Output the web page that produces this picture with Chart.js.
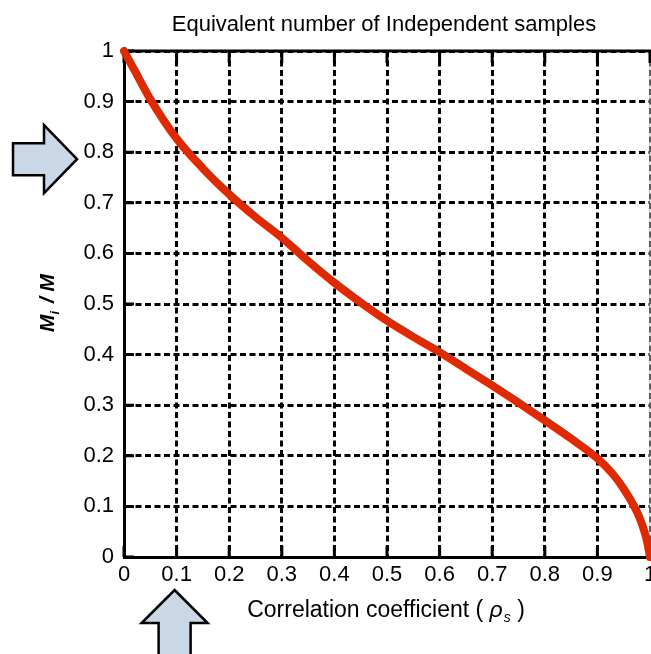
<!DOCTYPE html>
<html>
<head>
<meta charset="utf-8">
<script src="https://cdn.jsdelivr.net/npm/chart.js@4"></script>
<style>
  html, body { margin: 0; padding: 0; background: #fff; }
  canvas { display: block; }
</style>
</head>
<body>
<canvas id="corrChart" width="651" height="654"></canvas>
<script>
// correlation coefficient (x) and ratio Mi / M (y)
const rho = [0, 0.02, 0.05, 0.1, 0.15, 0.2, 0.25, 0.3, 0.35, 0.4, 0.45, 0.5, 0.55,
  0.6, 0.65, 0.7, 0.75, 0.8, 0.85, 0.9, 0.93, 0.95, 0.97, 0.98, 0.99, 0.995, 1.0];
const ratio = [1.0, 0.962, 0.905, 0.827, 0.768, 0.717, 0.672, 0.631, 0.585, 0.542, 0.503, 0.467, 0.435,
  0.405, 0.372, 0.339, 0.305, 0.27, 0.234, 0.195, 0.163, 0.135, 0.1, 0.078, 0.048, 0.028, 0.0];

const xTickLabels = ["0", "0.1", "0.2", "0.3", "0.4", "0.5", "0.6", "0.7", "0.8", "0.9", "1"];
const yTickLabels = ["0", "0.1", "0.2", "0.3", "0.4", "0.5", "0.6", "0.7", "0.8", "0.9", "1"];

// arrows point at these values
const arrowX = 0.1;
const arrowY = 0.8;

const FONT = "'Liberation Sans', Arial, sans-serif";

function drawArrow(ctx, pts) {
  ctx.beginPath();
  ctx.moveTo(pts[0][0], pts[0][1]);
  for (let i = 1; i < pts.length; i++) ctx.lineTo(pts[i][0], pts[i][1]);
  ctx.closePath();
  ctx.fillStyle = "#c9d7e6";
  ctx.fill();
  ctx.lineWidth = 2.5;
  ctx.strokeStyle = "#000";
  ctx.lineJoin = "miter";
  ctx.stroke();
}

const decorations = {
  id: "decorations",
  beforeDatasetsDraw(chart) {
    const { ctx, chartArea: a, scales: { x, y } } = chart;
    ctx.save();
    // solid top frame and faint right frame
    ctx.strokeStyle = "#000";
    ctx.lineWidth = 3;
    ctx.beginPath();
    ctx.moveTo(a.left, a.top);
    ctx.lineTo(a.right + 2, a.top);
    ctx.stroke();
    ctx.strokeStyle = "#bbb";
    ctx.lineWidth = 1;
    ctx.beginPath();
    ctx.moveTo(a.right, a.top);
    ctx.lineTo(a.right, a.bottom);
    ctx.stroke();
    // inward tick marks
    ctx.strokeStyle = "#000";
    ctx.lineWidth = 3;
    ctx.beginPath();
    x.ticks.forEach(t => {
      const px = x.getPixelForValue(t.value);
      ctx.moveTo(px, a.top);
      ctx.lineTo(px, a.top + 12);
      ctx.moveTo(px, a.bottom);
      ctx.lineTo(px, a.bottom - 11);
    });
    y.ticks.forEach(t => {
      const py = y.getPixelForValue(t.value);
      ctx.moveTo(a.left, py);
      ctx.lineTo(a.left + 10, py);
    });
    ctx.stroke();
    ctx.restore();
  },
  afterDraw(chart) {
    const { ctx, chartArea: a, scales: { x, y } } = chart;
    ctx.save();
    ctx.fillStyle = "#000";
    ctx.textBaseline = "alphabetic";

    // title
    ctx.font = "22px " + FONT;
    ctx.textAlign = "center";
    ctx.fillText("Equivalent number of Independent samples", 384, 31);

    // x axis title with subscript
    const cx = 386;
    const base = 617;
    const part1 = "Correlation coefficient ( ";
    const part3 = " )";
    ctx.font = "23px " + FONT;
    const w1 = ctx.measureText(part1).width;
    const w3 = ctx.measureText(part3).width;
    ctx.font = "italic 23px " + FONT;
    const wr = ctx.measureText("\u03c1").width;
    ctx.font = "italic 14px " + FONT;
    const ws = ctx.measureText("s").width;
    let sx = cx - (w1 + wr + ws + 1 + w3) / 2;
    ctx.textAlign = "left";
    ctx.font = "23px " + FONT;
    ctx.fillText(part1, sx, base);
    sx += w1;
    ctx.font = "italic 23px " + FONT;
    ctx.fillText("\u03c1", sx, base);
    sx += wr + 1;
    ctx.font = "italic 14px " + FONT;
    ctx.fillText("s", sx, base + 5);
    sx += ws;
    ctx.font = "23px " + FONT;
    ctx.fillText(part3, sx, base);

    // y axis title, rotated
    ctx.translate(54, 303);
    ctx.rotate(-Math.PI / 2);
    ctx.font = "bold italic 21px " + FONT;
    const wm = ctx.measureText("M").width;
    const wsl = ctx.measureText(" / ").width;
    ctx.font = "bold italic 13px " + FONT;
    const wi = ctx.measureText("i").width;
    const total = wm + wi + 2 + wsl + wm;
    let ly = -total / 2;
    ctx.font = "bold italic 21px " + FONT;
    ctx.fillText("M", ly, 0);
    ly += wm;
    ctx.font = "bold italic 13px " + FONT;
    ctx.fillText("i", ly, 5);
    ly += wi + 2;
    ctx.font = "bold italic 21px " + FONT;
    ctx.fillText(" / ", ly, 0);
    ly += wsl;
    ctx.fillText("M", ly, 0);
    ctx.setTransform(1, 0, 0, 1, 0, 0);

    // arrow pointing at y = 0.8
    const ay = y.getPixelForValue(arrowY) + 7;
    const tipX = 77;
    drawArrow(ctx, [
      [tipX, ay], [tipX - 33, ay - 34], [tipX - 33, ay - 16], [tipX - 64, ay - 16],
      [tipX - 64, ay + 16], [tipX - 33, ay + 16], [tipX - 33, ay + 34]
    ]);

    // arrow pointing at x = 0.1
    const ax = x.getPixelForValue(arrowX) - 2;
    const tipY = 590;
    drawArrow(ctx, [
      [ax, tipY], [ax + 33, tipY + 33], [ax + 16, tipY + 33], [ax + 16, tipY + 70],
      [ax - 16, tipY + 70], [ax - 16, tipY + 33], [ax - 33, tipY + 33]
    ]);
    ctx.restore();
  }
};

const points = rho.map((r, i) => ({ x: r, y: ratio[i] }));

new Chart(document.getElementById("corrChart").getContext("2d"), {
  type: "line",
  data: {
    datasets: [{
      data: points,
      borderColor: "#dd2a00",
      borderWidth: 8,
      pointRadius: 0,
      cubicInterpolationMode: "monotone",
      borderCapStyle: "round",
      borderJoinStyle: "round",
      clip: 10
    }]
  },
  options: {
    responsive: false,
    animation: false,
    devicePixelRatio: 1,
    layout: {
      padding: { top: 51, right: 1, left: 0, bottom: 0 },
      autoPadding: false
    },
    plugins: {
      legend: { display: false },
      tooltip: { enabled: false }
    },
    scales: {
      x: {
        type: "linear",
        min: 0,
        max: 1,
        afterFit: s => { s.height = 97; s.paddingLeft = 0; s.paddingRight = 0; },
        ticks: {
          stepSize: 0.1,
          color: "#000",
          font: { family: FONT, size: 22 },
          padding: 5,
          maxRotation: 0,
          autoSkip: false,
          callback: (v, i) => xTickLabels[i]
        },
        grid: { color: "#000", lineWidth: 3, drawTicks: false },
        border: { color: "#000", width: 3, dash: [6, 3.5] }
      },
      y: {
        type: "linear",
        min: 0,
        max: 1,
        afterFit: s => { s.width = 124; s.paddingTop = 0; s.paddingBottom = 0; },
        ticks: {
          stepSize: 0.1,
          color: "#000",
          font: { family: FONT, size: 22 },
          padding: 10,
          autoSkip: false,
          callback: (v, i) => yTickLabels[i]
        },
        grid: { color: "#000", lineWidth: 3, drawTicks: false },
        border: { color: "#000", width: 3, dash: [6, 3.5] }
      }
    }
  },
  plugins: [decorations]
});
</script>
</body>
</html>
